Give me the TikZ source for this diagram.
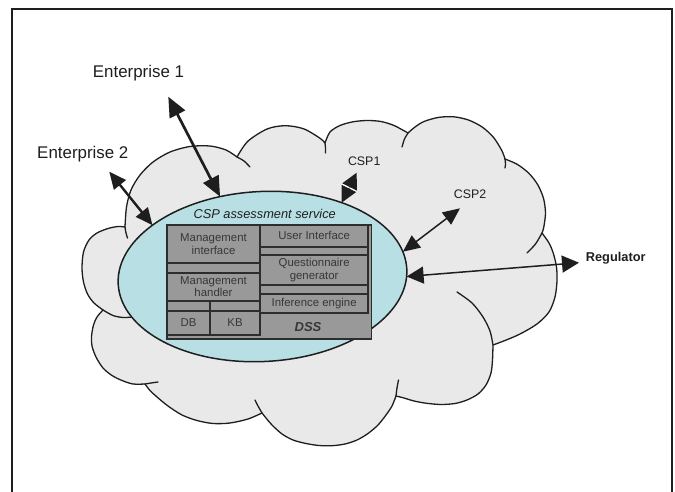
\documentclass[tikz,border=0pt]{standalone}
\usepackage{fontspec}
\setmainfont{Liberation Sans}
\usetikzlibrary{arrows.meta,shapes.geometric,calc}

\definecolor{cloudfill}{RGB}{233,233,233}
\definecolor{svcfill}{RGB}{184,224,228}
\definecolor{dssfill}{RGB}{153,153,153}
\definecolor{ink}{RGB}{30,30,30}
\definecolor{cellink}{RGB}{45,45,45}
\definecolor{celltext}{RGB}{55,55,55}

\newcommand\entfont{\fontsize{16.9}{20}\selectfont}
\newcommand\cspfont{\fontsize{12.4}{14}\selectfont}
\newcommand\regfont{\fontsize{12.8}{15}\selectfont\bfseries}
\newcommand\svcfont{\fontsize{12.8}{15}\selectfont\itshape}
\newcommand\dsscellfont{\fontsize{11.4}{12.6}\selectfont}
\newcommand\dssfont{\fontsize{13}{15}\selectfont\bfseries\itshape}

\begin{document}
\begin{tikzpicture}[x=1pt,y=-1pt,
  frame/.style={draw=ink,line width=1.5pt},
  cloudline/.style={draw=ink,line width=1.3pt,line join=round},
  curl/.style={draw=ink,line width=1.3pt,line cap=round},
  cell/.style={draw=cellink,line width=1.8pt,fill=dssfill,inner sep=0pt,
    outer sep=0pt,text=celltext,font=\dsscellfont,align=center},
  label/.style={anchor=base,text=ink,inner sep=0pt},
  bigarrow/.style={draw=ink,line width=2.7pt,
    arrows={Triangle[length=20pt,width=17pt]-Triangle[length=20pt,width=17pt]}},
  midarrow/.style={draw=ink,line width=2.4pt,
    arrows={Triangle[length=17pt,width=15pt]-Triangle[length=17pt,width=15pt]}},
  stubarrow/.style={draw=ink,line width=1.5pt,
    arrows={Triangle[length=16pt,width=16pt]-Triangle[length=16pt,width=16pt]}},
  thinarrow/.style={draw=ink,line width=1.5pt,
    arrows={Triangle[length=17pt,width=15pt]-Triangle[length=17pt,width=15pt]}},
  regarrow/.style={draw=ink,line width=1.5pt,
    arrows={Triangle[length=17pt,width=17pt]-Triangle[length=17pt,width=17pt]}},
]
\path[use as bounding box] (0,0) rectangle (675,492);
\clip (0,0) rectangle (675,492);

% outer frame (bottom edge runs below the page)
\draw[frame] (12,9) rectangle (672,520);

% cloud outline, bump by bump, clockwise from the left
\path[cloudline,fill=cloudfill]
  plot[smooth] coordinates {(125,227) (126.5,207) (131,190) (140,175) (153,162) (170,152) (190,146.5) (210,146) (226,150) (237,157)}
  -- plot[smooth] coordinates {(237,157) (247.8,141.3) (267.3,128.9) (285.6,125.7) (303.9,128.9) (319.9,138.2) (325,143)}
  -- plot[smooth] coordinates {(325,143) (330,132) (340,125.5) (353,121.8) (367,120.5) (381,121.5) (394,125.5) (408,133)}
  -- plot[smooth] coordinates {(408,133) (415,127) (424,121.5) (438.5,117.4) (453.8,116.8) (468.7,120.1) (482.3,127.1) (493.5,137.4) (501.7,150.3) (505,159)}
  -- plot[smooth] coordinates {(505,159) (517.2,164.3) (528.9,173.3) (537.9,185) (543.6,198.7) (545.5,213.4) (543.6,228.1) (542,233)}
  -- plot[smooth] coordinates {(542,233) (549,243) (553.3,253.3) (556.5,267) (557,281) (555,297) (549,312) (537,324) (520,334) (505,340.5) (493,345)}
  -- plot[smooth] coordinates {(493,345) (492.5,360) (491,373) (486,385) (478,394) (467,400) (455,403.5) (441,404.5) (426.7,403.3) (414,401) (404,398) (396,396)}
  -- plot[smooth] coordinates {(396,396) (392,406) (386,415) (378,425) (368,433.5) (357,440) (345,444) (332,445.7) (319,445.5) (306,443.5) (293,440) (282,434) (272,425) (266,418) (262,413)}
  -- plot[smooth] coordinates {(262,413) (248,419) (230,423) (213,423.5) (197,420.5) (182,415) (168,406) (157,397) (150,390.5) (145,384)}
  -- plot[smooth] coordinates {(145,384) (133,384) (122,380.5) (112,375.5) (103,368) (96,357) (92,346) (91.5,336.5) (93.5,325) (97,317) (103,310)}
  -- plot[smooth] coordinates {(103,310) (94,303) (87.5,294) (83.5,282) (82,268) (83.5,252) (89,240) (97,233) (108,228.5) (118,226.5) (125,227)}
  -- cycle;

% inner curls where the bumps overlap
\draw[curl] plot[smooth] coordinates {(125,227) (126,233) (127.5,238)};
\draw[curl] plot[smooth] coordinates {(237,157) (244,161) (250,167)};
\draw[curl] plot[smooth] coordinates {(325,143) (325.5,148) (325.5,153)};
\draw[curl] plot[smooth] coordinates {(408,133) (404.5,139) (402,147)};
\draw[curl] plot[smooth] coordinates {(505,159) (505.5,164) (505,168)};
\draw[curl] plot[smooth] coordinates {(542,233) (535.5,244) (527,253)};
\draw[curl] plot[smooth] coordinates {(457,292) (472,303) (483,317) (490,331) (493,345)};
\draw[curl] plot[smooth] coordinates {(396,396) (397,388) (398.5,380)};
\draw[curl] plot[smooth] coordinates {(262,413) (258,406) (255,400)};
\draw[curl] plot[smooth] coordinates {(145,384) (151,383) (158,382)};
\draw[curl] plot[smooth] coordinates {(103,310) (113,315.5) (123,317.5) (133,317)};

% assessment service
\node[ellipse,draw=ink,line width=1.5pt,fill=svcfill,minimum width=289pt,
  minimum height=170pt,inner sep=0pt,outer sep=0pt,rotate=3] (svc) at (262.5,276.5) {};
\node[label,font=\svcfont] (svctitle) at (264.7,218.3) {CSP assessment service};

% decision support system
\node[cell,minimum width=204.5pt,minimum height=114pt] (dss) at (269.25,282) {};
\node[cell,minimum width=93pt,minimum height=38pt] (mgmtif) at (213.5,244) {Management\\interface};
\node[cell,minimum width=93pt,minimum height=9.7pt] (gapa) at (213.5,267.85) {};
\node[cell,minimum width=93pt,minimum height=28pt] (mgmth) at (213.5,286.7) {Management\\handler};
\node[cell,minimum width=43pt,minimum height=10pt] (gapb) at (188.5,305.7) {};
\node[cell,minimum width=50pt,minimum height=10pt] (gapc) at (235,305.7) {};
\node[cell,minimum width=43pt,minimum height=24.3pt] (db) at (188.5,322.85) {DB};
\node[cell,minimum width=50pt,minimum height=24.3pt] (kb) at (235,322.85) {KB};
\node[cell,minimum width=108.3pt,minimum height=21.7pt] (ui) at (314.15,235.85) {User Interface};
\node[cell,minimum width=108.3pt,minimum height=8.3pt] (gapd) at (314.15,250.85) {};
\node[cell,minimum width=108.3pt,minimum height=30pt] (qg) at (314.15,270) {Questionnaire\\generator};
\node[cell,minimum width=108.3pt,minimum height=9.3pt] (gape) at (314.15,289.65) {};
\node[cell,minimum width=108.3pt,minimum height=19pt] (ie) at (314.15,303.8) {Inference engine};
\node[text=celltext,font=\dssfont,inner sep=0pt] (dsslabel) at (308,327) {DSS};

% outside parties
\node[label,font=\entfont] (ent1) at (138.5,77.3) {Enterprise 1};
\node[label,font=\entfont] (ent2) at (82.8,158.3) {Enterprise 2};
\node[label,font=\cspfont] (csp1) at (364.2,165) {CSP1};
\node[label,font=\cspfont] (csp2) at (470,198.3) {CSP2};
\node[label,font=\regfont] (reg) at (615.7,261.7) {Regulator};

% connectors
\coordinate (ent1tip) at (168.3,96.7);
\coordinate (ent2tip) at (109.3,171.7);
\coordinate (csp1tip) at (356.7,172.7);
\coordinate (csp2tip) at (460,208.3);
\coordinate (regtip) at (579,262.7);

\draw[bigarrow] (ent1tip) -- (svc.115.2);
\draw[midarrow] (ent2tip) -- (svc.152.5);
\draw[stubarrow] (svc.40.35) -- (csp1tip);
\coordinate (csp1mid) at ($(svc.40.35)!0.5!(csp1tip)$);
\draw[white,line width=0.8pt] ($(csp1mid)!8pt!90:(csp1tip)$) -- ($(csp1mid)!8pt!-90:(csp1tip)$);
\draw[thinarrow] (svc.7.7) -- (csp2tip);
\draw[regarrow] (svc.-3.5) -- (regtip);
\end{tikzpicture}
\end{document}
